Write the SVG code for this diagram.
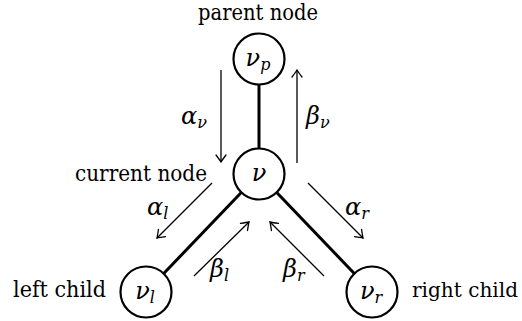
<svg xmlns="http://www.w3.org/2000/svg" width="522" height="321" viewBox="0 0 522 321">
  <style>
    text { font-family: 'DejaVu Serif', 'Liberation Serif', serif; fill: #000; }
    .lbl { font-size: 22px; }
    .math { font-style: italic; font-size: 24px; }
    .sub { font-size: 16px; }
    .node { fill: #fff; stroke: #000; stroke-width: 2.2; }
    .edge { stroke: #000; stroke-width: 3; fill: none; }
    .arrow { stroke: #000; stroke-width: 1.3; fill: none; marker-end: url(#ah); }
  </style>
  <defs>
    <marker id="ah" markerUnits="userSpaceOnUse" markerWidth="14" markerHeight="14" viewBox="-8 -7 10 14" refX="0" refY="0" orient="auto">
      <path d="M -7 -5 Q -2 -1.2 0 0 Q -2 1.2 -7 5" fill="none" stroke="#000" stroke-width="1.3" stroke-linecap="round"/>
    </marker>
  </defs>

  <g id="edges">
    <line class="edge" x1="259" y1="59" x2="259" y2="174"/>
    <line class="edge" x1="259" y1="174" x2="146" y2="292"/>
    <line class="edge" x1="259" y1="174" x2="372" y2="292"/>
  </g>

  <g id="connectors">
    <line class="arrow" x1="221" y1="70" x2="221" y2="162"/>
    <line class="arrow" x1="297" y1="163" x2="297" y2="70"/>
    <line class="arrow" x1="212" y1="183" x2="157" y2="238"/>
    <line class="arrow" x1="308" y1="183" x2="363" y2="238"/>
    <line class="arrow" x1="194" y1="276" x2="249" y2="222"/>
    <line class="arrow" x1="324" y1="276" x2="270" y2="222"/>
  </g>

  <g id="parent">
    <circle class="node" cx="259" cy="59" r="25.5"/>
    <text class="math" x="258" y="66" text-anchor="middle">ν<tspan class="sub" dy="4">p</tspan></text>
    <text class="lbl" x="258" y="19.5" text-anchor="middle" textLength="120" lengthAdjust="spacingAndGlyphs">parent node</text>
  </g>

  <g id="current">
    <circle class="node" cx="259" cy="174" r="25.5"/>
    <text class="math" x="259" y="181" text-anchor="middle">ν</text>
    <text class="lbl" x="207" y="181" text-anchor="end" textLength="132" lengthAdjust="spacingAndGlyphs">current node</text>
  </g>

  <g id="left">
    <circle class="node" cx="146" cy="292" r="25.5"/>
    <text class="math" x="145" y="299" text-anchor="middle">ν<tspan class="sub" dy="4">l</tspan></text>
    <text class="lbl" x="13" y="297" textLength="93" lengthAdjust="spacingAndGlyphs">left child</text>
  </g>

  <g id="right">
    <circle class="node" cx="372" cy="292" r="25.5"/>
    <text class="math" x="371" y="299" text-anchor="middle">ν<tspan class="sub" dy="4">r</tspan></text>
    <text class="lbl" x="412" y="297" style="font-size:20px" textLength="106" lengthAdjust="spacingAndGlyphs">right child</text>
  </g>

  <g id="labels">
    <text class="math" x="181" y="124">α<tspan class="sub" dy="4">ν</tspan></text>
    <text class="math" x="306" y="124">β<tspan class="sub" dy="4">ν</tspan></text>
    <text class="math" x="147" y="215">α<tspan class="sub" dy="4">l</tspan></text>
    <text class="math" x="345" y="215">α<tspan class="sub" dy="4">r</tspan></text>
    <text class="math" x="210" y="277">β<tspan class="sub" dy="4">l</tspan></text>
    <text class="math" x="283" y="277">β<tspan class="sub" dy="4">r</tspan></text>
  </g>
</svg>
